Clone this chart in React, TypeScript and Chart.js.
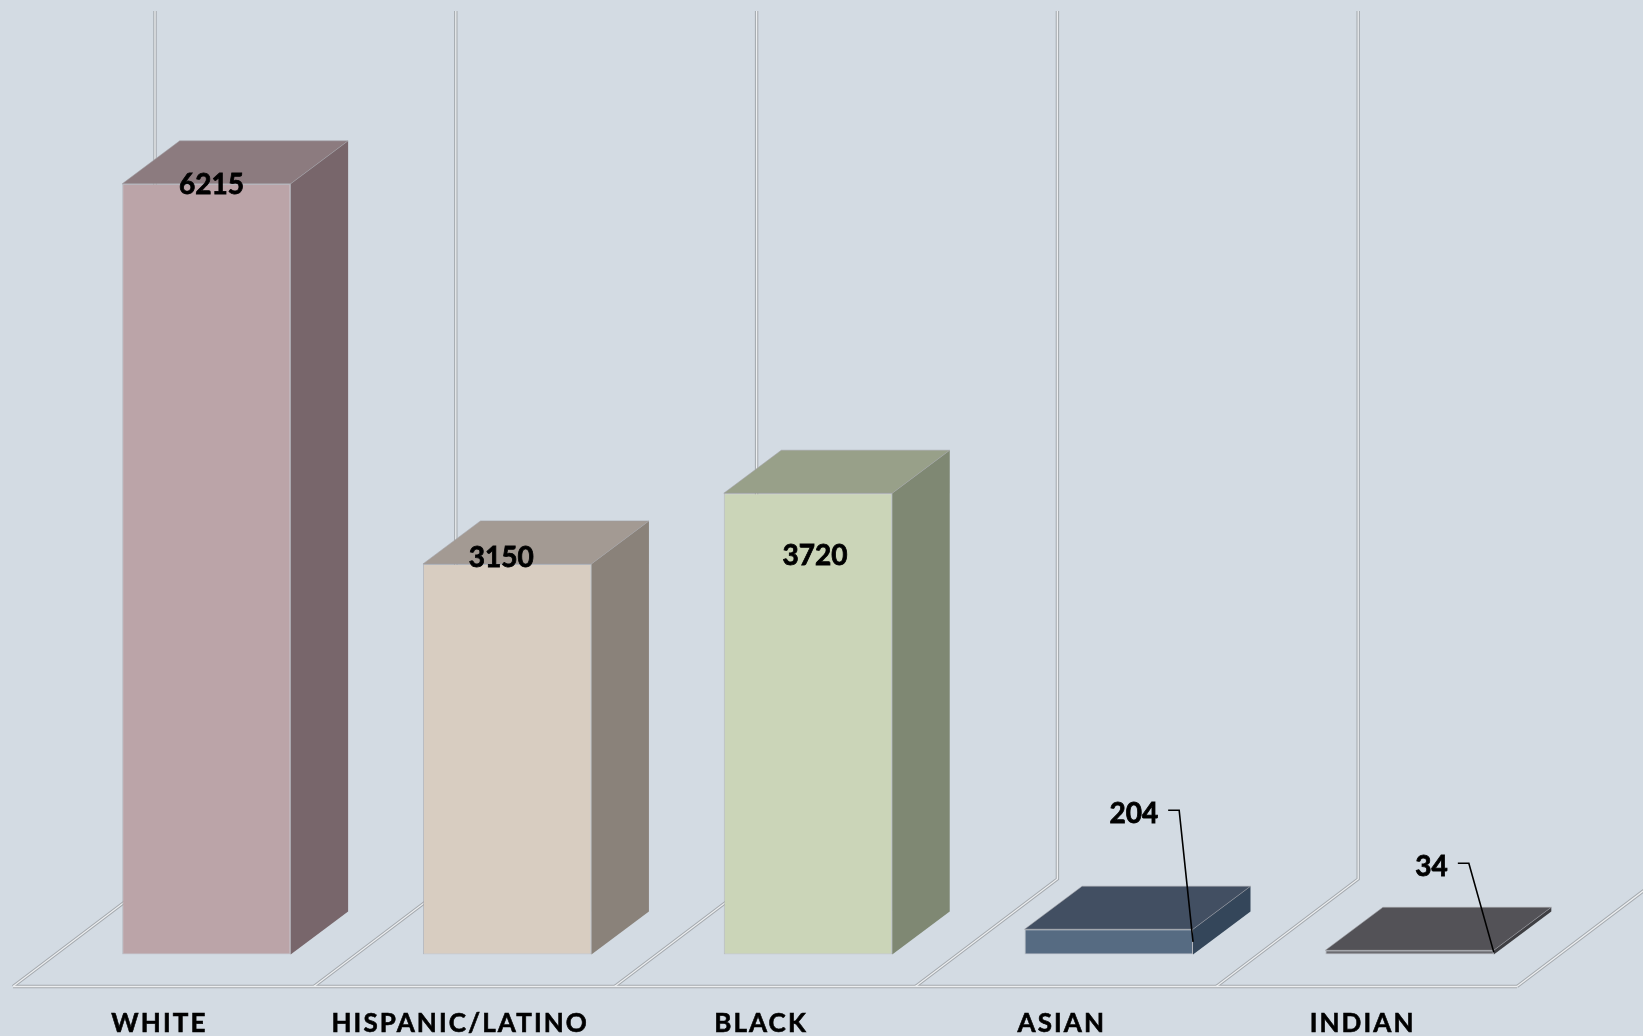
import React, { useEffect, useRef } from "react";
import { Chart, registerables } from "chart.js";

Chart.register(...registerables);

// ---- data ----
const categories = ["WHITE", "HISPANIC/LATINO", "BLACK", "ASIAN", "INDIAN"];
const values = [6215, 3150, 3720, 204, 34];
const Y_MAX = 7000;

// ---- styles ----
const frontColors = ["#bba4a8", "#d8cdc1", "#cbd5b8", "#566b82", "#6c6c71"];
const topColors = ["#8c7b7f", "#a39a93", "#98a089", "#424f62", "#535257"];
const sideColors = ["#78666b", "#8a827a", "#7f8873", "#34465a", "#3f3f43"];
// label placement relative to the bar's front-top centre (px), and leader flags
const labelOffsets: [number, number][] = [[5, 1], [-6, -6], [7, 63], [25, -115], [22, -83]];
const leaderLines = [false, false, false, true, true];

const BG = "#d3dbe3";
const BAR_DX = 57.5;
const BAR_DY = 43;
const FLOOR_FRONT_GAP = 32;
const FLOOR_DX = 142;
const FLOOR_DY = 107.5;
const FLOOR_SHIFT = 43;

function doubleStroke(ctx: CanvasRenderingContext2D, paths: [number, number][][]) {
  const pass = (w: number, c: string) => {
    ctx.lineWidth = w;
    ctx.strokeStyle = c;
    for (const p of paths) {
      ctx.beginPath();
      ctx.moveTo(p[0][0], p[0][1]);
      for (let k = 1; k < p.length; k++) ctx.lineTo(p[k][0], p[k][1]);
      ctx.stroke();
    }
  };
  pass(3.4, "#a4a9ae");
  pass(1.3, "#eceef0");
}

const depthPlugin = {
  id: "depth3d",
  beforeDraw(chart: any) {
    chart.ctx.letterSpacing = "2.1px";
  },
  beforeDatasetsDraw(chart: any) {
    const ctx: CanvasRenderingContext2D = chart.ctx;
    ctx.save();
    ctx.letterSpacing = "0px";
    const xs = chart.scales.x;
    const ys = chart.scales.y;
    const y0 = ys.getPixelForValue(0);
    const w = xs.width / categories.length;
    const frontY = y0 + FLOOR_FRONT_GAP;
    const backY = frontY - FLOOR_DY;
    const wallTop = ys.getPixelForValue(Y_MAX) + (backY - y0);
    const first = xs.getPixelForValue(0) - w / 2 - FLOOR_SHIFT;
    const paths: [number, number][][] = [];
    for (let i = 0; i <= categories.length; i++) {
      const fx = first + i * w;
      paths.push([
        [fx, frontY],
        [fx + FLOOR_DX, backY],
        [fx + FLOOR_DX, wallTop],
      ]);
    }
    paths.push([
      [first, frontY],
      [first + categories.length * w, frontY],
    ]);
    ctx.lineJoin = "miter";
    doubleStroke(ctx, paths);
    ctx.restore();
    chart.ctx.letterSpacing = "0px";
  },
  afterDatasetsDraw(chart: any) {
    const ctx: CanvasRenderingContext2D = chart.ctx;
    ctx.save();
    ctx.letterSpacing = "0px";
    const meta = chart.getDatasetMeta(0);
    meta.data.forEach((bar: any, i: number) => {
      const p = bar.getProps(["x", "y", "base", "width"], true);
      const left = p.x - p.width / 2;
      const right = p.x + p.width / 2;
      const top = p.y;
      const bottom = p.base;
      // side face
      ctx.beginPath();
      ctx.moveTo(right, top);
      ctx.lineTo(right + BAR_DX, top - BAR_DY);
      ctx.lineTo(right + BAR_DX, bottom - BAR_DY);
      ctx.lineTo(right, bottom);
      ctx.closePath();
      ctx.fillStyle = sideColors[i];
      ctx.fill();
      // top face
      ctx.beginPath();
      ctx.moveTo(left, top);
      ctx.lineTo(left + BAR_DX, top - BAR_DY);
      ctx.lineTo(right + BAR_DX, top - BAR_DY);
      ctx.lineTo(right, top);
      ctx.closePath();
      ctx.fillStyle = topColors[i];
      ctx.fill();
      ctx.lineWidth = 1;
      ctx.strokeStyle = "rgba(160,160,165,0.55)";
      ctx.stroke();
    });
    // labels
    ctx.font = "bold 28px Lato";
    ctx.fillStyle = "#000";
    ctx.strokeStyle = "#000";
    ctx.textAlign = "center";
    ctx.textBaseline = "middle";
    meta.data.forEach((bar: any, i: number) => {
      const p = bar.getProps(["x", "y", "base", "width"], true);
      const lx = p.x + labelOffsets[i][0];
      const ly = p.y + labelOffsets[i][1];
      const txt = String(values[i]);
      ctx.lineWidth = 0.8;
      ctx.strokeStyle = "#000";
      ctx.strokeText(txt, lx, ly);
      ctx.fillText(txt, lx, ly);
      if (leaderLines[i]) {
        const tw = ctx.measureText(txt).width;
        const sx = lx + tw / 2 + 10;
        const sy = ly - 4;
        ctx.beginPath();
        ctx.moveTo(sx, sy);
        ctx.lineTo(sx + 11, sy);
        ctx.lineTo(p.x + p.width / 2, (p.y + p.base) / 2);
        ctx.lineWidth = 1.6;
        ctx.stroke();
      }
    });
    ctx.restore();
  },
};

export default function App() {
  const ref = useRef<HTMLCanvasElement | null>(null);
  useEffect(() => {
    if (!ref.current) return;
    const chart = new Chart(ref.current, {
      type: "bar",
      data: {
        labels: categories,
        datasets: [
          {
            data: values,
            backgroundColor: frontColors,
            borderColor: "rgba(165,165,170,0.6)",
            borderWidth: 1,
            borderSkipped: false,
            categoryPercentage: 1,
            barPercentage: 0.56,
          },
        ],
      },
      options: {
        responsive: false,
        devicePixelRatio: 1,
        animation: false,
        layout: { padding: { top: 86.5, left: 56, right: 83, bottom: 0 } },
        plugins: { legend: { display: false }, tooltip: { enabled: false } },
        scales: {
          y: { display: false, min: 0, max: Y_MAX },
          x: {
            display: true,
            grid: { display: false, drawTicks: false },
            border: { display: false },
            ticks: {
              color: "#000",
              font: { family: "Lato", size: 26, weight: "bold" },
              textStrokeColor: "#000",
              textStrokeWidth: 0.6,
              padding: 54,
              labelOffset: -47,
              maxRotation: 0,
              autoSkip: false,
            },
            afterFit: (s: any) => {
              s.height = 81.5;
            },
          },
        },
      },
      plugins: [depthPlugin],
    });
    return () => chart.destroy();
  }, []);
  return (
    <div
      style={{
        position: "fixed",
        left: 0,
        top: 0,
        width: 1643,
        height: 1036,
        background: BG,
        overflow: "hidden",
      }}
    >
      <canvas ref={ref} width={1643} height={1036} style={{ width: 1643, height: 1036, display: "block" }} />
    </div>
  );
}
